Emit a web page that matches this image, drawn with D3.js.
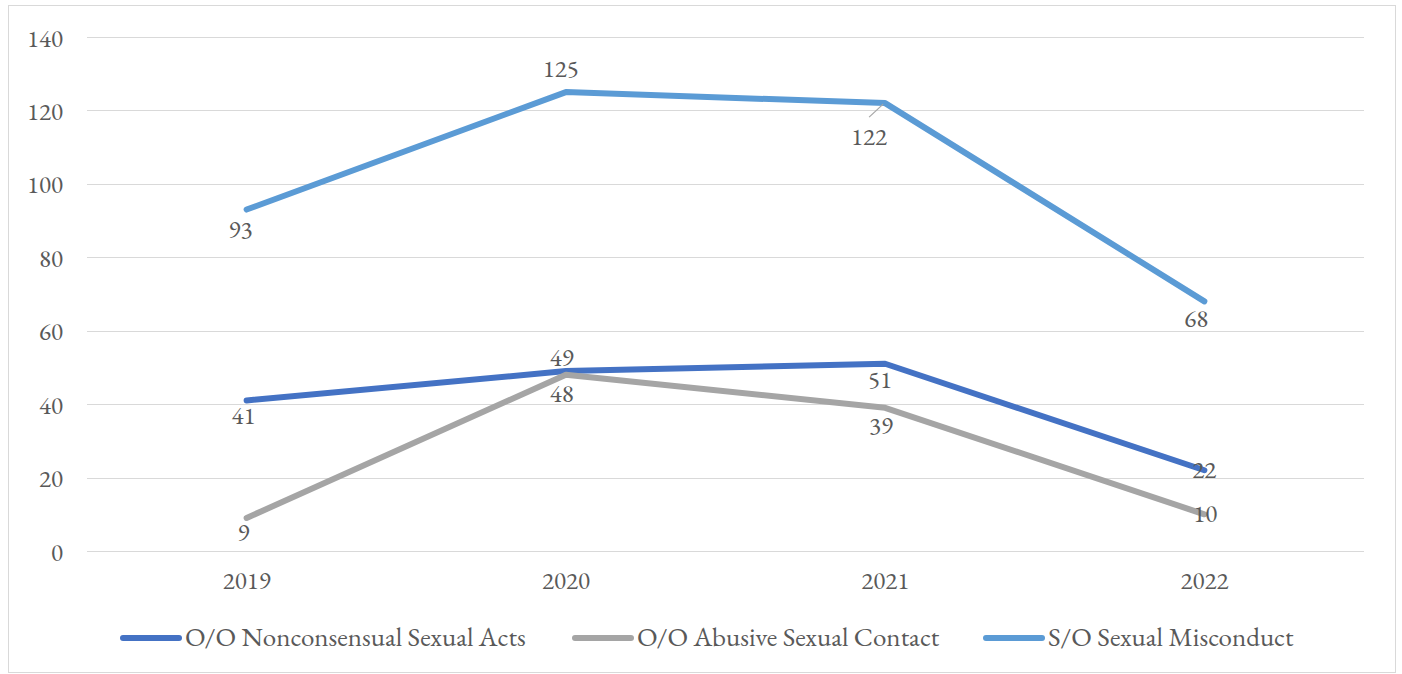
<!DOCTYPE html>
<html>
<head>
<meta charset="utf-8">
<script src="https://cdn.jsdelivr.net/npm/d3@7"></script>
<style>
  body { margin: 0; background: #fff; }
</style>
</head>
<body>
<svg id="chart" width="1402" height="674"></svg>
<script>
var years = ["2019", "2020", "2021", "2022"];
var seriesNames = ["O/O Nonconsensual Sexual Acts", "O/O Abusive Sexual Contact", "S/O Sexual Misconduct"];
var nonconsensual = [41, 49, 51, 22];
var abusive = [9, 48, 39, 10];
var misconduct = [93, 125, 122, 68];
var yTicks = [0, 20, 40, 60, 80, 100, 120, 140];
var colors = ["#4472c4", "#a5a5a5", "#5b9bd5"];
// label offset from its point [dx, dy of baseline]
var labelOffsets = [
    [[-3, 24], [-4, -5], [-5, 24], [0, 8]],
    [[-3, 23], [-4, 27], [-4, 26], [1, 8]],
    [[-6, 28], [-5, -15], [-16, 42], [-8, 26]]
];

var series = [nonconsensual, abusive, misconduct].map(function(vals, i) {
    return { name: seriesNames[i], color: colors[i], values: vals.map(function(v, j) {
        return { year: years[j], value: v, off: labelOffsets[i][j] };
    }) };
});

var font = "EB Garamond";
var textColor = "#595959";

var svg = d3.select("#chart");
var margin = { top: 37, right: 38, bottom: 123, left: 87 },
    width = 1402 - margin.left - margin.right,
    height = 674 - margin.top - margin.bottom;

// outer frame
svg.append("rect")
    .attr("x", 8.5).attr("y", 5.5)
    .attr("width", 1387).attr("height", 667)
    .attr("fill", "#fff")
    .attr("stroke", "#d9d9d9")
    .attr("stroke-width", 1);

var g = svg.append("g")
    .attr("transform", "translate(" + margin.left + "," + margin.top + ")");

var x = d3.scaleBand().domain(years).range([0, width]);
var y = d3.scaleLinear().domain([0, 140]).range([height, 0]);

// gridlines
g.selectAll(".grid")
    .data(yTicks)
    .enter().append("line")
    .attr("class", "grid")
    .attr("x1", 0).attr("x2", width)
    .attr("y1", function(d) { return Math.round(y(d)) + 0.5; })
    .attr("y2", function(d) { return Math.round(y(d)) + 0.5; })
    .attr("stroke", "#d9d9d9")
    .attr("stroke-width", 1.2);

var yAxis = g.append("g")
    .call(d3.axisLeft(y).tickValues(yTicks).tickSize(0).tickPadding(24));
yAxis.select(".domain").remove();
yAxis.selectAll("text")
    .attr("font-family", font).attr("font-size", 25)
    .attr("fill", textColor).attr("dy", "0.36em");

var xAxis = g.append("g")
    .attr("transform", "translate(0," + height + ")")
    .call(d3.axisBottom(x).tickSize(0).tickPadding(20));
xAxis.select(".domain").remove();
xAxis.selectAll("text")
    .attr("font-family", font).attr("font-size", 25)
    .attr("fill", textColor);

var line = d3.line()
    .x(function(d) { return x(d.year) + x.bandwidth() / 2; })
    .y(function(d) { return y(d.value); });

g.selectAll(".series")
    .data(series)
    .enter().append("path")
    .attr("class", "series")
    .attr("d", function(d) { return line(d.values); })
    .attr("fill", "none")
    .attr("stroke", function(d) { return d.color; })
    .attr("stroke-width", 6)
    .attr("stroke-linecap", "round")
    .attr("stroke-linejoin", "round");

// leader line for the 122 label
var pLead = series[2].values[2];
g.append("line")
    .attr("x1", x(pLead.year) + x.bandwidth() / 2 - 2).attr("y1", y(pLead.value) + 1)
    .attr("x2", x(pLead.year) + x.bandwidth() / 2 - 16).attr("y2", y(pLead.value) + 14)
    .attr("stroke", "#a6a6a6").attr("stroke-width", 1.2);

// data labels
series.forEach(function(s) {
    g.selectAll(null)
        .data(s.values)
        .enter().append("text")
        .attr("x", function(d) { return x(d.year) + x.bandwidth() / 2 + d.off[0]; })
        .attr("y", function(d) { return y(d.value) + d.off[1]; })
        .attr("text-anchor", "middle")
        .attr("font-family", font)
        .attr("font-size", 25)
        .attr("fill", textColor)
        .text(function(d) { return d.value; });
});

// legend
var legendX = [120, 572, 983];
var legend = svg.selectAll(".legend")
    .data(series)
    .enter().append("g")
    .attr("class", "legend")
    .attr("transform", function(d, i) { return "translate(" + legendX[i] + ",638)"; });

legend.append("line")
    .attr("x1", 3).attr("x2", 59)
    .attr("y1", 0).attr("y2", 0)
    .attr("stroke", function(d) { return d.color; })
    .attr("stroke-width", 6)
    .attr("stroke-linecap", "round");

legend.append("text")
    .attr("x", 65)
    .attr("y", 8)
    .attr("font-family", font)
    .attr("font-size", 27)
    .attr("fill", textColor)
    .text(function(d) { return d.name; });
</script>
</body>
</html>
